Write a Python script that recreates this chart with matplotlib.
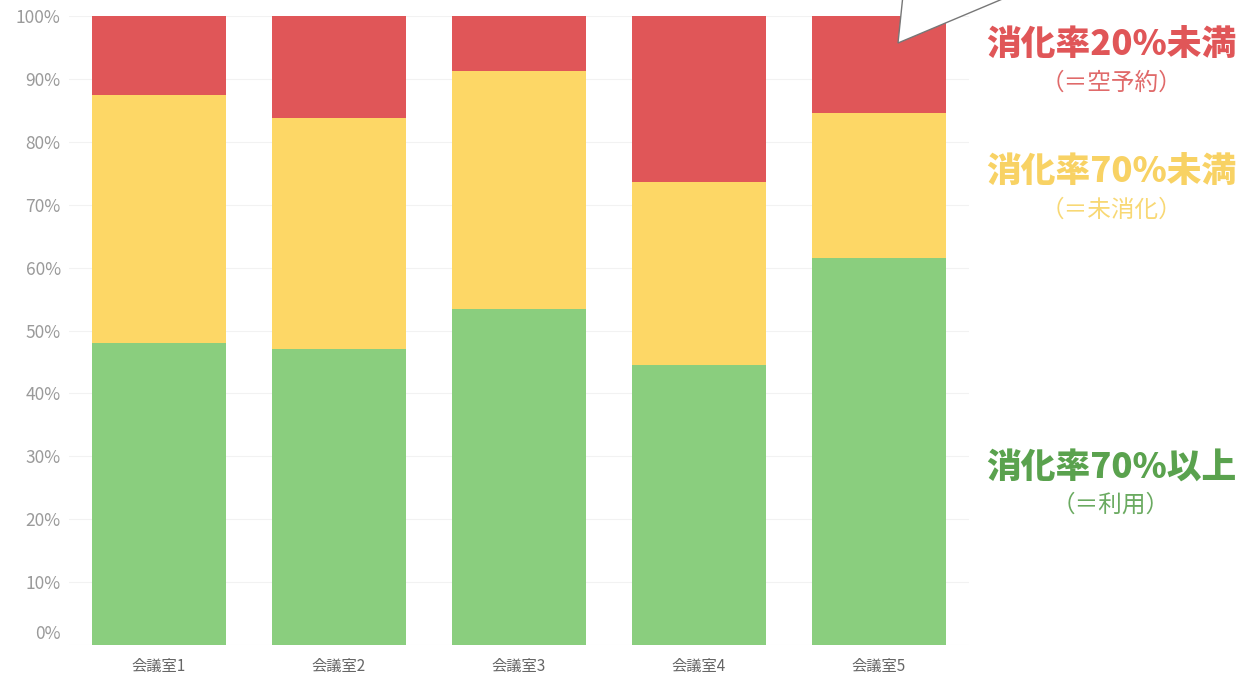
import numpy as np
import matplotlib.pyplot as plt
import matplotlib.transforms as mtransforms
from matplotlib.patches import Polygon

plt.rcParams['font.family'] = ['Noto Sans CJK JP', 'DejaVu Sans']

# データ（各会議室の割合, %）
rooms = ['会議室1', '会議室2', '会議室3', '会議室4', '会議室5']
used = [48.0, 47.1, 53.4, 44.5, 61.5]          # 消化率70%以上
unconsumed = [39.4, 36.7, 37.9, 29.1, 23.1]    # 消化率70%未満
empty = [12.6, 16.2, 8.7, 26.4, 15.4]          # 消化率20%未満

c_green = '#8ACE7E'
c_yellow = '#FDD766'
c_red = '#E05658'

fig = plt.figure(figsize=(12.54, 6.77), dpi=100)
ax = fig.add_axes([69 / 1254, 32 / 677, 900 / 1254, 629 / 677])

x = np.arange(len(rooms))
w = 0.744
ax.bar(x, used, w, color=c_green, zorder=2)
ax.bar(x, unconsumed, w, bottom=used, color=c_yellow, zorder=2)
ax.bar(x, empty, w, bottom=np.array(used) + np.array(unconsumed), color=c_red, zorder=2)

ax.set_xlim(-0.5, 4.5)
ax.set_ylim(0, 100)
ax.set_yticks(np.arange(0, 101, 10))
ax.set_yticklabels([f'{v}%' for v in range(0, 101, 10)], color='#9a9a9a', fontsize=12.5)
ax.set_xticks(x)
ax.set_xticklabels(rooms, color='#666666', fontsize=11)
ax.tick_params(axis='y', length=0, pad=6)
ax.tick_params(axis='x', length=0, pad=9)
ax.grid(axis='y', color='#f2f2f2', linewidth=0.8, zorder=0)
for s in ax.spines.values():
    s.set_visible(False)

# 0% のラベルは少し上に表示されている
lbl0 = ax.get_yticklabels()[0]
lbl0.set_transform(lbl0.get_transform() + mtransforms.ScaledTranslation(0, 13 / 100, fig.dpi_scale_trans))

# 右側のラベル
labels = [
    (45, '消化率20%未満', '（＝空予約）', c_red, '#E06A6A'),
    (172, '消化率70%未満', '（＝未消化）', '#F8D264', '#F8D874'),
    (467, '消化率70%以上', '（＝利用）', '#5AA24E', '#6AAA60'),
]
for ypx, main, sub, col, subcol in labels:
    fig.text(1111 / 1254, 1 - ypx / 677, main, ha='center', va='center',
             fontsize=25, fontweight='heavy', color=col)
    fig.text(1111 / 1254, 1 - (ypx + 38) / 677, sub, ha='center', va='center',
             fontsize=17, color=subcol)

# 吹き出し（上部で切れている）
pts = np.array([[903, -5], [898, 43], [1012, -5]])
bubble = Polygon(np.column_stack([pts[:, 0] / 1254, 1 - pts[:, 1] / 677]),
                 closed=False, facecolor='white', edgecolor='#777777',
                 linewidth=1.0, transform=fig.transFigure, zorder=5)
fig.patches.append(bubble)

fig.savefig('out.png', dpi=100, facecolor='white')
